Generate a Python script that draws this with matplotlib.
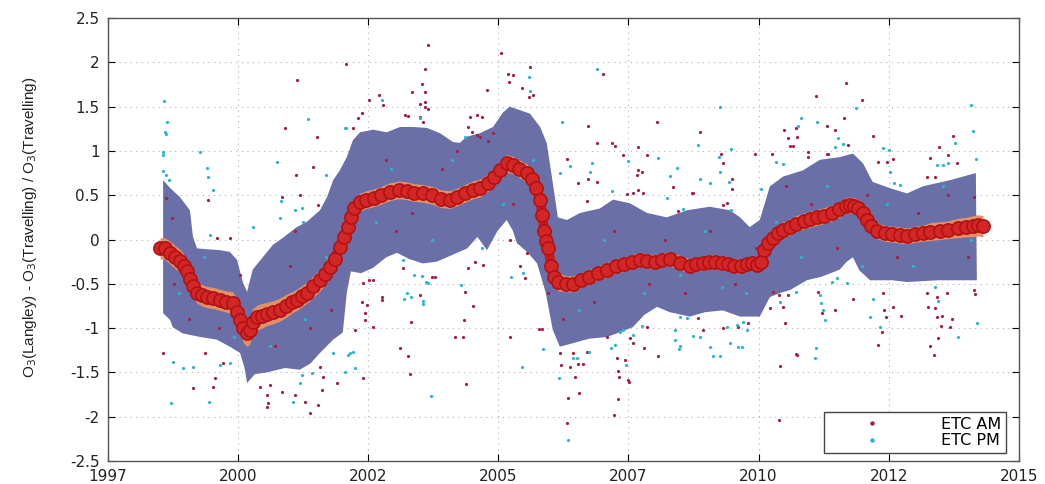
import matplotlib
matplotlib.use("Agg")
import matplotlib.pyplot as plt
import numpy as np

plt.rcParams['font.family'] = ['DejaVu Sans']

# Running mean of the ratio (red circles)
mean_x = [1998.03, 1998.12, 1998.23, 1998.33, 1998.42, 1998.50, 1998.56, 1998.62, 1998.68, 1998.76,
          1998.86, 1998.96, 1999.08, 1999.21, 1999.34, 1999.47, 1999.55, 1999.61, 1999.67, 1999.75,
          1999.80, 1999.86, 1999.95, 2000.05, 2000.14, 2000.27, 2000.40, 2000.52, 2000.63, 2000.73,
          2000.83, 2000.93, 2001.06, 2001.19, 2001.29, 2001.39, 2001.48, 2001.58, 2001.66, 2001.74,
          2001.80, 2001.86, 2001.98, 2002.10, 2002.25, 2002.40, 2002.57, 2002.75, 2002.90, 2003.05,
          2003.22, 2003.40, 2003.58, 2003.76, 2003.90, 2004.05, 2004.21, 2004.35, 2004.50, 2004.62,
          2004.75, 2004.88, 2005.00, 2005.12, 2005.28, 2005.38, 2005.46, 2005.54, 2005.58, 2005.62,
          2005.66, 2005.70, 2005.76, 2005.82, 2005.90, 2006.05, 2006.19, 2006.35, 2006.50, 2006.68,
          2006.86, 2007.03, 2007.20, 2007.35, 2007.51, 2007.65, 2007.80, 2007.95, 2008.10, 2008.30,
          2008.50, 2008.62, 2008.75, 2008.88, 2009.00, 2009.13, 2009.25, 2009.38, 2009.50, 2009.62,
          2009.72, 2009.82, 2009.90, 2009.97, 2010.05, 2010.15, 2010.25, 2010.34, 2010.47, 2010.60,
          2010.75, 2010.88, 2011.01, 2011.15, 2011.30, 2011.45, 2011.58, 2011.66, 2011.75, 2011.83,
          2011.92, 2012.00, 2012.08, 2012.19, 2012.35, 2012.50, 2012.65, 2012.79, 2012.95, 2013.10,
          2013.25, 2013.44, 2013.60, 2013.80, 2013.95, 2014.10, 2014.20, 2014.29]
mean_y = [-0.10, -0.10, -0.15, -0.20, -0.24, -0.30, -0.36, -0.45, -0.53, -0.60,
          -0.63, -0.65, -0.66, -0.68, -0.70, -0.72, -0.82, -0.91, -1.00, -1.05,
          -1.02, -0.93, -0.88, -0.86, -0.84, -0.82, -0.79, -0.75, -0.71, -0.68,
          -0.64, -0.60, -0.53, -0.46, -0.39, -0.31, -0.22, -0.08, 0.03, 0.14,
          0.25, 0.35, 0.42, 0.45, 0.47, 0.50, 0.54, 0.56, 0.55, 0.53,
          0.52, 0.50, 0.46, 0.45, 0.48, 0.52, 0.56, 0.58, 0.64, 0.70,
          0.78, 0.86, 0.84, 0.80, 0.75, 0.68, 0.58, 0.45, 0.28, 0.10,
          -0.02, -0.10, -0.30, -0.42, -0.48, -0.50, -0.50, -0.46, -0.42, -0.38,
          -0.34, -0.30, -0.28, -0.25, -0.23, -0.24, -0.25, -0.23, -0.22, -0.26,
          -0.30, -0.28, -0.27, -0.25, -0.25, -0.27, -0.28, -0.30, -0.30, -0.28,
          -0.27, -0.29, -0.25, -0.12, -0.04, 0.02, 0.07, 0.11, 0.14, 0.18,
          0.21, 0.23, 0.25, 0.27, 0.30, 0.34, 0.38, 0.39, 0.38, 0.36,
          0.30, 0.22, 0.15, 0.10, 0.07, 0.06, 0.05, 0.04, 0.06, 0.07,
          0.09, 0.10, 0.11, 0.13, 0.14, 0.15, 0.16, 0.15]
# half width of the orange confidence band at each mean point
ci_half = [0.12, 0.12, 0.13, 0.13, 0.13, 0.13, 0.13, 0.13, 0.12, 0.12,
           0.12, 0.12, 0.12, 0.12, 0.12, 0.13, 0.14, 0.15, 0.16, 0.16,
           0.16, 0.15, 0.14, 0.14, 0.13, 0.13, 0.13, 0.13, 0.12, 0.12,
           0.12, 0.12, 0.12, 0.12, 0.12, 0.12, 0.12, 0.12, 0.12, 0.12,
           0.11, 0.11, 0.10, 0.10, 0.10, 0.10, 0.10, 0.10, 0.10, 0.10,
           0.10, 0.10, 0.10, 0.10, 0.10, 0.10, 0.10, 0.10, 0.10, 0.10,
           0.10, 0.10, 0.10, 0.10, 0.10, 0.11, 0.12, 0.12, 0.12, 0.12,
           0.12, 0.12, 0.12, 0.11, 0.10, 0.09, 0.09, 0.08, 0.08, 0.08,
           0.08, 0.08, 0.08, 0.08, 0.08, 0.08, 0.08, 0.08, 0.08, 0.08,
           0.08, 0.08, 0.08, 0.08, 0.08, 0.08, 0.08, 0.08, 0.08, 0.08,
           0.08, 0.08, 0.09, 0.09, 0.09, 0.09, 0.09, 0.09, 0.09, 0.09,
           0.09, 0.09, 0.09, 0.09, 0.09, 0.09, 0.09, 0.09, 0.09, 0.09,
           0.09, 0.09, 0.09, 0.09, 0.09, 0.09, 0.09, 0.09, 0.09, 0.09,
           0.10, 0.10, 0.10, 0.11, 0.11, 0.12, 0.12, 0.12]

# spread envelope (blue band)
upper_x = [1998.09, 1998.23, 1998.42, 1998.62, 1998.68, 1998.76, 1998.96, 1999.21, 1999.41, 1999.55,
           1999.67, 1999.75, 1999.86, 2000.06, 2000.26, 2000.46, 2000.73, 2000.93, 2001.19, 2001.33,
           2001.45, 2001.58, 2001.72, 2001.84, 2001.98, 2002.24, 2002.51, 2002.77, 2003.03, 2003.30,
           2003.56, 2003.82, 2003.95, 2004.09, 2004.35, 2004.61, 2004.80, 2004.94, 2005.14, 2005.34,
           2005.54, 2005.67, 2005.79, 2005.89, 2006.07, 2006.33, 2006.72, 2006.98, 2007.31, 2007.65,
           2008.04, 2008.44, 2008.89, 2009.29, 2009.49, 2009.68, 2009.88, 2010.08, 2010.34, 2010.73,
           2011.07, 2011.46, 2011.72, 2011.92, 2012.11, 2012.45, 2012.79, 2013.10, 2013.64, 2014.15]
upper_y = [0.67, 0.58, 0.48, 0.33, 0.03, -0.10, -0.11, -0.12, -0.14, -0.23,
           -0.49, -0.59, -0.34, -0.20, -0.06, 0.02, 0.14, 0.20, 0.33, 0.48,
           0.67, 0.78, 0.93, 1.12, 1.21, 1.24, 1.21, 1.27, 1.27, 1.26,
           1.20, 1.10, 1.09, 1.16, 1.20, 1.27, 1.43, 1.50, 1.46, 1.42,
           1.27, 1.09, 0.64, 0.25, 0.22, 0.30, 0.35, 0.45, 0.41, 0.30,
           0.25, 0.33, 0.37, 0.33, 0.25, 0.14, 0.22, 0.60, 0.71, 0.78,
           0.90, 0.93, 0.97, 0.86, 0.65, 0.58, 0.52, 0.60, 0.67, 0.75]
lower_x = [1998.09, 1998.23, 1998.28, 1998.48, 1998.82, 1999.15, 1999.41, 1999.61, 1999.70, 1999.75,
           1999.90, 2000.14, 2000.50, 2000.79, 2001.00, 2001.19, 2001.45, 2001.64, 2001.72, 2001.80,
           2002.00, 2002.24, 2002.50, 2002.71, 2002.95, 2003.22, 2003.50, 2003.90, 2004.10, 2004.30,
           2004.49, 2004.70, 2004.88, 2005.00, 2005.08, 2005.30, 2005.48, 2005.65, 2005.79, 2005.93,
           2006.19, 2006.50, 2006.86, 2007.10, 2007.37, 2007.60, 2007.85, 2008.10, 2008.50, 2008.80,
           2009.15, 2009.49, 2009.88, 2010.08, 2010.30, 2010.48, 2010.81, 2011.10, 2011.46, 2011.60,
           2011.72, 2011.85, 2012.06, 2012.50, 2012.79, 2013.40, 2014.17]
lower_y = [-0.83, -0.91, -0.99, -1.06, -1.10, -1.13, -1.21, -1.28, -1.45, -1.62,
           -1.52, -1.50, -1.45, -1.47, -1.40, -1.28, -1.13, -1.05, -0.60, -0.36,
           -0.38, -0.32, -0.20, -0.15, -0.22, -0.27, -0.25, -0.15, -0.10, 0.03,
           -0.12, 0.10, 0.22, 0.10, -0.04, -0.15, -0.27, -0.60, -1.02, -1.21,
           -1.17, -1.12, -1.10, -1.05, -0.99, -0.85, -0.76, -0.82, -0.87, -0.82,
           -0.80, -0.87, -0.87, -0.65, -0.60, -0.57, -0.46, -0.42, -0.34, -0.25,
           -0.20, -0.35, -0.46, -0.46, -0.48, -0.46, -0.46]

# ETC AM individual measurements
am_x = [2001.70, 2000.73, 2000.50, 2001.13, 2001.05, 2000.71, 1998.15, 1998.26, 1998.98, 1999.15,
        1999.41, 2000.44, 2000.79, 2000.69, 2001.15,
        1998.09, 1998.68, 1998.92, 1999.11, 1999.07, 1999.27, 2000.00, 2000.20, 2000.14, 2000.16,
        2000.14, 2000.44, 2000.69, 2000.89, 2000.99, 2001.15, 2001.19, 2001.23, 2001.52, 2001.25,
        2003.32, 2004.76, 2003.26, 2005.34, 2004.90, 2005.00, 2004.92, 2003.20, 2003.26, 2005.18,
        2005.32, 2005.40, 2004.49, 2003.01, 2002.16, 2002.35, 2002.43, 2003.16, 2003.26, 2003.26,
        2003.32, 2002.02, 2001.94, 2001.84, 2002.87, 2002.93, 2003.16, 2003.22, 2004.15, 2004.29,
        2004.39, 2004.11, 2004.19, 2004.29, 2004.35, 2004.51, 2006.48, 2006.78, 2007.85, 2006.66,
        2006.96, 2007.02, 2007.18, 2007.47, 2007.65, 2007.47, 2007.55, 2007.45, 2007.37, 2007.47,
        2007.57, 2008.16, 2008.54, 2006.07, 2006.29, 2006.48, 2006.66, 2006.46, 2007.25, 2008.26,
        2011.58, 2010.99, 2011.90, 2011.54, 2010.59, 2011.21, 2008.70, 2010.36, 2010.44, 2010.61,
        2010.48, 2010.53, 2012.11, 2013.70, 2011.36, 2011.23, 2011.21, 2011.62, 2010.83, 2009.11,
        2009.15, 2009.78, 2010.12, 2009.33, 2009.33, 2008.56, 2009.23, 2009.15, 2010.83, 2012.21,
        2012.39, 2012.51, 2013.24, 2013.42, 2013.60, 2013.77, 2013.18, 2013.34, 2014.11,
        2010.14, 2010.26, 2010.44, 2010.08, 2010.34, 2010.38, 2010.59, 2010.28, 2010.26, 2011.03,
        2011.11, 2011.36, 2011.72, 2012.31, 2012.33, 2012.37, 2012.51, 2012.67, 2012.29, 2012.21,
        2013.18, 2013.38, 2013.20, 2013.34, 2013.38, 2013.48, 2013.68, 2013.46, 2013.64, 2013.40,
        2013.24, 2013.32, 2013.58, 2014.11, 2014.13, 2009.15, 2009.45, 2009.65, 2008.76, 2010.61,
        2002.04, 2002.16, 2002.24, 2002.02, 2002.12, 2002.08, 2002.08, 2002.24, 2001.88, 2002.04,
        2002.41, 2002.41, 2002.83, 2002.77, 2002.93, 2003.16, 2002.99, 2002.97, 2003.40, 2003.46,
        2003.86, 2004.01, 2004.05, 2004.03, 2004.07, 2004.11, 2004.21, 2004.25, 2004.41, 2004.94,
        2004.94, 2005.24, 2005.28, 2005.14, 2005.52, 2005.58, 2005.93, 2005.95, 2006.13, 2006.09,
        2006.07, 2006.23, 2006.19, 2006.29, 2006.39, 2006.31, 2006.46, 2006.86, 2007.06, 2007.08,
        2007.10, 2007.00, 2007.08, 2007.21, 2007.27, 2007.29, 2007.31, 2007.37, 2007.59, 2007.65,
        2007.87, 2008.66,
        1998.30, 1998.60, 1999.20, 1999.60, 2000.30, 2000.60, 2001.00, 2001.40, 2002.50, 2002.70,
        2003.00, 2003.60, 2003.90, 2004.60, 2005.00, 2005.70, 2006.00, 2006.60, 2007.00, 2007.70,
        2008.00, 2008.40, 2008.90, 2009.40, 2009.80, 2010.40, 2010.90, 2011.40, 2012.00, 2012.60,
        2013.00, 2013.60, 2014.00]
am_y = [1.98, 1.80, 1.26, 1.16, 0.82, 0.73, 0.47, 0.24, 0.45, 0.02,
        0.02, 0.48, 0.50, 0.10, 0.39,
        -1.28, -1.68, -1.28, -1.56, -1.66, -1.39, -1.66, -1.64, -1.75, -1.85,
        -1.89, -1.72, -1.75, -1.83, -1.96, -1.87, -1.44, -1.70, -1.62, -1.55,
        2.19, 2.10, 1.93, 1.95, 1.87, 1.86, 1.78, 1.75, 1.67, 1.71,
        1.61, 1.63, 1.69, 1.66, 1.58, 1.63, 1.52, 1.53, 1.55, 1.50,
        1.47, 1.43, 1.37, 1.26, 1.41, 1.39, 1.38, 1.33, 1.38, 1.40,
        1.38, 1.27, 1.21, 1.18, 1.16, 1.11, 1.28, 1.87, 1.33, 1.09,
        1.09, 1.05, 0.95, 1.04, 0.95, 0.78, 0.76, 0.73, 0.52, 0.56,
        0.52, 0.59, 0.52, 0.91, 0.64, 0.68, 0.65, 0.43, 0.51, 0.32,
        1.77, 1.62, 1.57, 1.37, 1.26, 1.28, 1.21, 1.24, 1.15, 1.16,
        1.06, 1.06, 1.17, 1.17, 1.24, 0.97, 0.96, 1.07, 0.99, 0.97,
        0.86, 0.96, 0.96, 0.68, 0.57, 0.52, 0.41, 0.39, 0.93, 0.87,
        0.87, 0.91, 0.92, 1.04, 0.95, 0.86, 0.71, 0.71, 0.48,
        -0.59, -0.63, -0.63, -0.77, -0.76, -0.94, -1.29, -1.43, -2.04, -0.59,
        -0.83, -0.80, -0.67, -0.60, -0.79, -0.87, -0.76, -0.86, -1.04, -1.19,
        -0.60, -0.65, -0.76, -0.77, -0.87, -0.86, -0.90, -0.98, -0.99, -1.11,
        -1.20, -1.30, -0.60, -0.57, -0.62, -1.00, -0.99, -0.94, -1.02, -1.30,
        -0.49, -0.46, -0.46, -0.71, -0.74, -0.83, -0.91, -0.99, -1.02, -1.56,
        -0.65, -0.68, -0.32, -1.22, -1.31, -0.63, -0.93, -1.52, -0.42, -0.42,
        -1.10, -1.10, -0.59, -0.91, -1.63, -0.32, -0.75, -0.25, -0.29, -0.01,
        -1.10, -0.43, -0.15, -0.30, -1.01, -1.01, -1.28, -1.42, -1.44, -1.79,
        -2.07, -1.55, -1.28, -1.41, -1.41, -1.73, -1.27, -1.10, -1.34, -1.48,
        -1.55, -1.98, -1.80, -1.36, -1.59, -1.61, -1.11, -1.17, -1.22, -0.99,
        -1.31, -0.89,
        -0.50, -0.90, -1.00, -0.40, -1.20, -0.30, -1.00, -0.80, 0.90, 0.10,
        0.30, 0.80, 1.00, 1.20, 0.40, -0.60, -0.90, -0.70, 0.10, -0.50,
        0.00, -0.60, 0.10, -0.50, -0.10, 0.60, 0.40, -0.10, 0.50, -0.20,
        0.30, 0.50, -0.20]

# ETC PM individual measurements
pm_x = [1998.11, 1998.17, 1998.13, 1998.15, 1998.09, 1998.09, 1998.09, 1998.15, 1998.21, 2000.95,
        2001.68, 2000.34, 2001.31, 1998.82, 1998.96, 1998.98, 1999.07, 1999.02, 1999.86, 2000.42,
        2000.40, 2000.69, 2000.83, 2000.85,
        1998.28, 1998.24, 1998.48, 1998.68, 1999.00, 1999.21, 1999.41, 2000.66, 2000.83, 2001.03,
        2001.45, 2001.74, 2000.79,
        2005.32, 2005.34, 2001.70, 2002.41, 2004.05, 2005.97, 2006.66, 2007.27, 2008.66, 2007.87,
        2008.24, 2008.10, 2005.93, 2006.13, 2006.56, 2006.52, 2006.96, 2008.04, 2008.36, 2003.16,
        2011.78, 2009.09, 2014.05, 2014.09, 2010.69, 2010.63, 2011.01, 2013.73, 2011.42, 2011.36,
        2011.52, 2009.31, 2009.07, 2009.09, 2009.90, 2009.27, 2008.89, 2008.70, 2009.31, 2010.20,
        2010.34, 2012.31, 2012.43, 2012.45, 2012.53, 2012.65, 2013.38, 2013.50, 2013.60, 2014.15,
        2010.28, 2010.59, 2010.99, 2010.97, 2011.07, 2011.09, 2011.13, 2011.17, 2012.06, 2012.11,
        2012.25, 2011.31, 2011.60, 2011.40, 2013.40, 2013.79, 2013.34, 2014.17, 2009.63, 2009.29,
        2009.45, 2009.53, 2009.23, 2009.43, 2009.55, 2008.89, 2008.95, 2009.09, 2008.70, 2009.13,
        2001.78, 2001.84, 2001.88, 2001.68, 2002.83, 2002.85, 2002.91, 2002.99, 2003.05, 2003.20,
        2003.28, 2003.22, 2003.22, 2003.32, 2003.38, 2003.97, 2004.96, 2005.20, 2005.18, 2005.60,
        2005.91, 2006.09, 2006.19, 2006.27, 2006.50, 2006.94, 2007.23, 2007.02, 2007.12, 2007.18,
        2007.37, 2007.55, 2008.20, 2008.20, 2008.30, 2008.28, 2008.30, 2008.44, 2008.56,
        1998.40, 1998.90, 1999.50, 2000.20, 2000.90, 2001.30, 2002.30, 2002.60, 2003.40, 2003.80,
        2004.40, 2004.80, 2005.40, 2006.30, 2006.80, 2007.60, 2008.30, 2008.80, 2009.60, 2010.20,
        2010.70, 2011.20, 2011.90, 2012.40, 2012.90, 2013.50, 2014.05]
pm_y = [1.56, 1.33, 1.21, 1.19, 0.99, 0.95, 0.77, 0.73, 0.67, 1.36,
        1.26, 0.88, 0.73, 0.99, 0.81, 0.71, 0.56, 0.05, 0.14, 0.43,
        0.24, 0.33, 0.35, 0.20,
        -1.38, -1.85, -1.45, -1.44, -1.83, -1.42, -1.39, -1.83, -1.53, -1.51,
        -1.28, -1.30, -1.62,
        1.83, 1.68, 1.26, 1.57, 1.16, 1.33, 1.93, 0.89, 1.07, 0.92,
        0.81, 0.72, 0.75, 0.83, 0.86, 0.76, 0.55, 0.47, 0.34, 1.37,
        1.48, 1.50, 1.52, 1.22, 1.37, 1.28, 1.33, 1.09, 1.15, 1.04,
        1.08, 1.02, 0.93, 0.76, 0.57, 0.65, 0.64, 0.68, 0.33, 0.88,
        0.85, 1.03, 1.01, 0.76, 0.64, 0.62, 0.84, 0.84, 0.86, 0.91,
        -0.71, -0.59, -1.22, -1.34, -0.63, -0.72, -0.79, -0.91, -0.87, -0.67,
        -0.99, -0.48, -0.49, -0.43, -0.69, -1.10, -0.54, -0.94, -1.02, -1.17,
        -1.21, -1.21, -0.99, -0.97, -0.93, -1.21, -1.31, -1.32, -1.10, -0.54,
        -1.28, -1.27, -1.45, -1.50, -0.23, -0.67, -0.60, -0.65, -0.40, -0.41,
        -0.48, -0.69, -0.73, -0.49, -1.77, -0.51, -0.42, -0.38, -1.44, -1.24,
        -1.56, -2.26, -1.34, -1.34, -1.27, -1.22, -1.42, -1.19, -1.04, -1.02,
        -1.08, -0.98, -1.02, -1.13, -1.20, -1.24, -0.87, -0.89, -1.09,
        -0.60, -0.20, -1.10, -1.20, -0.90, -0.20, 0.20, 0.80, 0.00, 0.90,
        -0.10, 0.40, 0.90, -0.80, 0.00, -0.60, -0.40, 0.10, -0.60, 0.20,
        -0.20, 0.60, -0.30, 0.40, -0.30, 0.60, 0.00]

xticks = [1997, 1999.571, 2002.143, 2004.714, 2007.286, 2009.857, 2012.429, 2015]
xtick_labels = ['1997', '2000', '2002', '2005', '2007', '2010', '2012', '2015']
yticks = [-2.5, -2, -1.5, -1, -0.5, 0, 0.5, 1, 1.5, 2, 2.5]
ytick_labels = ['-2.5', '-2', '-1.5', '-1', '-0.5', '0', '0.5', '1', '1.5', '2', '2.5']

fig = plt.figure(figsize=(10.45, 4.84), dpi=100)
ax = fig.add_axes([0.1033, 0.0475, 0.8717, 0.9153])

# blue spread band
band_x = upper_x + lower_x[::-1]
band_y = upper_y + lower_y[::-1]
ax.fill(band_x, band_y, color='#6b6fa8', lw=0, zorder=1)

# orange uncertainty band around the mean
m = np.array(mean_y)
h = np.array(ci_half)
ax.fill_between(mean_x, m - h, m + h, color='#e29068', lw=0, zorder=2)

ax.plot(mean_x, mean_y, '-', color='#cc1a1a', lw=7, zorder=3, solid_capstyle='round')
ax.plot(mean_x, mean_y, 'o', ms=9.5, mfc='#d32626', mec='#b21212', mew=1.2, zorder=3)

ax.plot(am_x, am_y, 'o', ms=2.3, mew=0, color='#a52040', ls='none', zorder=4, label='ETC AM')
ax.plot(pm_x, pm_y, 'o', ms=2.3, mew=0, color='#2cb4d4', ls='none', zorder=4, label='ETC PM')

ax.set_xlim(1997, 2015)
ax.set_ylim(-2.5, 2.5)
ax.set_xticks(xticks)
ax.set_xticklabels(xtick_labels, fontsize=11)
ax.set_yticks(yticks)
ax.set_yticklabels(ytick_labels, fontsize=11)
ax.tick_params(direction='in', top=True, right=True, length=5, width=0.8, pad=6,
               labelcolor='#222222')
ax.grid(True, ls=(0, (1, 4)), color='#b0b0b0', lw=0.8, zorder=0)
ax.set_axisbelow(True)
for s in ax.spines.values():
    s.set_color('#555555')
    s.set_linewidth(1.0)

ax.set_ylabel(r'O$_3$(Langley) - O$_3$(Travelling) / O$_3$(Travelling)',
              fontsize=11, family='Liberation Sans', color='#222222')
ax.yaxis.set_label_coords(-0.076, 0.528)

leg = ax.legend(loc='lower right', bbox_to_anchor=(0.9857, 0.018), borderaxespad=0,
                fontsize=11.5, markerscale=1.4, handlelength=5.4, handletextpad=1.6,
                borderpad=0.3, labelspacing=0.1, fancybox=False,
                framealpha=1, edgecolor='#444444')
leg.get_frame().set_linewidth(1.0)

fig.savefig('out.png', dpi=100)
